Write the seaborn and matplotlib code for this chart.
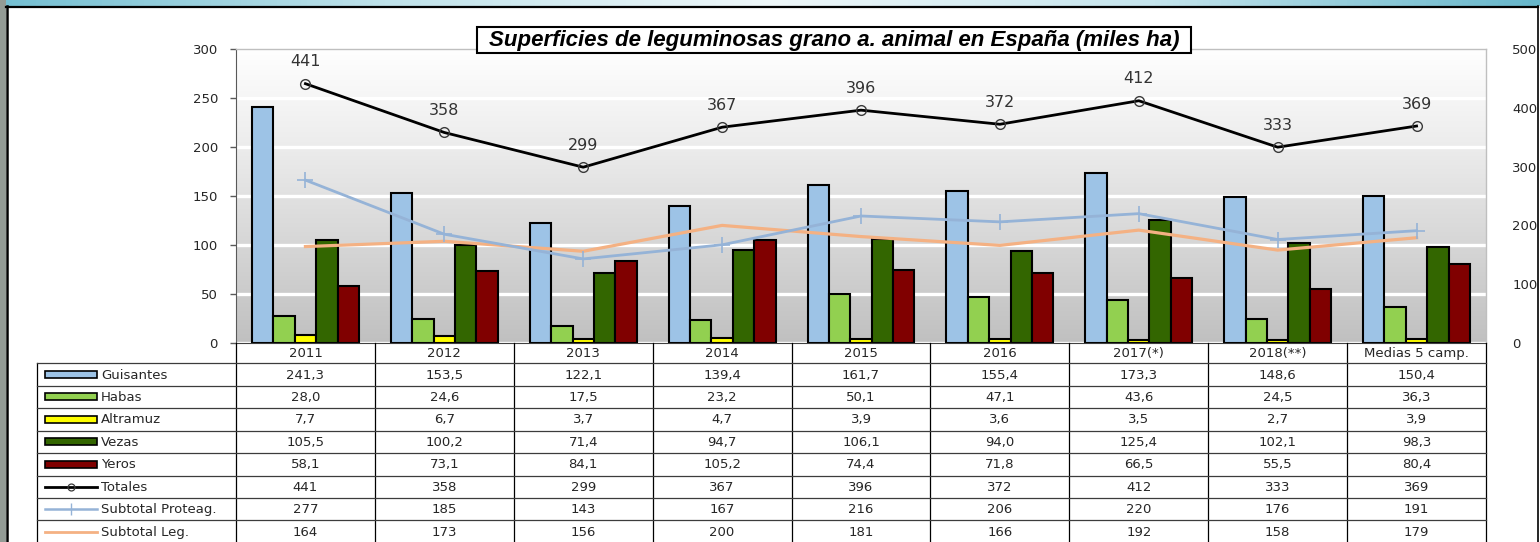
"""Superficies de leguminosas grano para alimentación animal en España (miles ha)."""

import matplotlib

matplotlib.use("Agg")
import matplotlib.pyplot as plt
import numpy as np
import pandas as pd
import seaborn as sns
from matplotlib.colors import LinearSegmentedColormap
from matplotlib.lines import Line2D
from matplotlib.patches import Rectangle

# --- datos -----------------------------------------------------------------
campanas = ["2011", "2012", "2013", "2014", "2015", "2016", "2017(*)", "2018(**)", "Medias 5 camp."]
guisantes = [241.3, 153.5, 122.1, 139.4, 161.7, 155.4, 173.3, 148.6, 150.4]
habas = [28.0, 24.6, 17.5, 23.2, 50.1, 47.1, 43.6, 24.5, 36.3]
altramuz = [7.7, 6.7, 3.7, 4.7, 3.9, 3.6, 3.5, 2.7, 3.9]
vezas = [105.5, 100.2, 71.4, 94.7, 106.1, 94.0, 125.4, 102.1, 98.3]
yeros = [58.1, 73.1, 84.1, 105.2, 74.4, 71.8, 66.5, 55.5, 80.4]
totales = [441, 358, 299, 367, 396, 372, 412, 333, 369]
subtotal_proteag = [277, 185, 143, 167, 216, 206, 220, 176, 191]
subtotal_leg = [164, 173, 156, 200, 181, 166, 192, 158, 179]

cultivos = ["Guisantes", "Habas", "Altramuz", "Vezas", "Yeros"]
valores_cultivos = [guisantes, habas, altramuz, vezas, yeros]
colores_cultivos = ["#9dc3e6", "#92d050", "#ffff00", "#336600", "#800000"]

titulo = "Superficies de leguminosas grano a. animal en España (miles ha)"

# --- geometría (píxeles) ---------------------------------------------------
W, H = 1540, 542
PLOT_L, PLOT_R, PLOT_T, PLOT_B = 236, 1486, 49, 343
CAT_W = (PLOT_R - PLOT_L) / len(campanas)
TABLE_L = 37
HEAD_B = 363.3
ROW_H = 22.45
TXT = "#262626"


def fx(px):
    return px / W


def fy(py):
    return 1 - py / H


n = len(campanas)
pos = np.arange(n)
barras = pd.DataFrame(
    {
        "pos": np.tile(pos, len(cultivos)),
        "cultivo": np.repeat(cultivos, n),
        "valor": np.concatenate(valores_cultivos),
    }
)

fig = plt.figure(figsize=(W / 100, H / 100), dpi=100)
fig.patch.set_facecolor("white")

ax = fig.add_axes([fx(PLOT_L), fy(PLOT_B), (PLOT_R - PLOT_L) / W, (PLOT_B - PLOT_T) / H])

sns.barplot(
    data=barras,
    x="pos",
    y="valor",
    hue="cultivo",
    hue_order=cultivos,
    palette=colores_cultivos,
    saturation=1,
    width=0.77,
    edgecolor="black",
    linewidth=1.5,
    errorbar=None,
    legend=False,
    ax=ax,
)

# fondo degradado del área de trazado
fondo = LinearSegmentedColormap.from_list("fondo", ["#c0c0c0", "#d6d6d6", "#ececec", "#ffffff"])
ax.imshow(
    np.linspace(0, 1, 256).reshape(-1, 1),
    cmap=fondo,
    origin="lower",
    aspect="auto",
    extent=(-0.5, n - 0.5, 0, 300),
    zorder=0,
)
ax.set_xlim(-0.5, n - 0.5)
ax.set_ylim(0, 300)
ax.set_yticks(range(0, 301, 50))
ax.set_axisbelow(True)
ax.yaxis.grid(True, color="white", linewidth=2.4)
ax.xaxis.grid(False)
ax.set_xticks([])
ax.set_xlabel("")
ax.set_ylabel("")
ax.tick_params(axis="y", direction="out", length=4, width=1, color="#595959",
               pad=9, labelsize=9.5, labelcolor=TXT)
for lado in ("top", "right"):
    ax.spines[lado].set_color("#bfbfbf")
    ax.spines[lado].set_linewidth(1)
ax.spines["left"].set_color("#595959")
ax.spines["bottom"].set_color("#404040")

# --- líneas sobre eje secundario ------------------------------------------
ax2 = ax.twinx()
sns.lineplot(x=pos, y=subtotal_leg, ax=ax2, color="#f4b183", linewidth=2.3,
             errorbar=None, legend=False)
sns.lineplot(x=pos, y=subtotal_proteag, ax=ax2, color="#95b3d7", linewidth=2.0,
             marker="+", markersize=11, markeredgewidth=1.2,
             markeredgecolor="#95b3d7", errorbar=None, legend=False)
sns.lineplot(x=pos, y=totales, ax=ax2, color="black", linewidth=2.0,
             marker="o", markersize=7, markerfacecolor="none",
             markeredgecolor="#3a3a3a", markeredgewidth=1.0,
             errorbar=None, legend=False)
for i, v in enumerate(totales):
    ax2.annotate(str(v), xy=(i, v), xytext=(0, 22), textcoords="offset pixels",
                 ha="center", va="center", fontsize=11.5, color="#333333")
ax2.set_xlim(-0.5, n - 0.5)
ax2.set_ylim(0, 500)
ax2.set_yticks(range(0, 501, 100))
ax2.set_ylabel("")
ax2.tick_params(axis="y", length=0, pad=19, labelsize=9.5, labelcolor=TXT)
for lado in ax2.spines:
    ax2.spines[lado].set_visible(False)

# --- capa de dibujo en píxeles: marco, título y tabla ---------------------
ov = fig.add_axes([0, 0, 1, 1], zorder=5)
ov.set_xlim(0, W)
ov.set_ylim(H, 0)
ov.axis("off")
ov.patch.set_alpha(0)

franja = LinearSegmentedColormap.from_list(
    "franja", ["#74bfd2", "#bfe2ea", "#eef7f9", "#c4e4ec", "#66b6ca"]
)
ov.imshow(np.linspace(0, 1, 256).reshape(1, -1), cmap=franja, aspect="auto",
          extent=(0, W, 6, 0), zorder=1)
ov.add_patch(Rectangle((0, 0), 6, H, facecolor="#939b95", edgecolor="none", zorder=1))
ov.add_line(Line2D([7, 7], [6, H], color="black", linewidth=1.8, zorder=2))
ov.add_line(Line2D([6, 1538], [6.5, 6.5], color="black", linewidth=1.6, zorder=2))
ov.add_line(Line2D([1537.5, 1537.5], [6, H], color="black", linewidth=1.2, zorder=2))
ov.set_xlim(0, W)
ov.set_ylim(H, 0)

# título enmarcado
ov.add_patch(Rectangle((477, 27), 714, 26, facecolor="white", edgecolor="black",
                       linewidth=1.5, zorder=3))
t = ov.text(834, 40.5, titulo, ha="center", va="center", fontsize=14,
            fontstyle="italic", fontweight="bold", family="Liberation Sans",
            color="black", zorder=4)
fig.canvas.draw()
ancho = t.get_window_extent().width
t.set_fontsize(14 * 692 / ancho)

# tabla de datos
filas = [
    ("Guisantes", guisantes, True),
    ("Habas", habas, True),
    ("Altramuz", altramuz, True),
    ("Vezas", vezas, True),
    ("Yeros", yeros, True),
    ("Totales", totales, False),
    ("Subtotal Proteag.", subtotal_proteag, False),
    ("Subtotal Leg.", subtotal_leg, False),
]

for j in range(n + 1):
    xe = PLOT_L + j * CAT_W
    ov.add_line(Line2D([xe, xe], [PLOT_B, H], color="black", linewidth=0.9, zorder=2))
ov.add_line(Line2D([TABLE_L, TABLE_L], [HEAD_B, H], color="black", linewidth=0.9, zorder=2))
for k in range(len(filas) + 1):
    ye = HEAD_B + k * ROW_H
    ov.add_line(Line2D([TABLE_L, PLOT_R], [ye, ye], color="#3c3c3c", linewidth=0.9, zorder=2))

for j, cab in enumerate(campanas):
    ov.text(PLOT_L + (j + 0.5) * CAT_W, (PLOT_B + HEAD_B) / 2 + 0.5, cab,
            ha="center", va="center", fontsize=9.5, color=TXT)

estilos_lineas = {
    "Totales": dict(color="black", lw=2.0, marker="o", ms=5, mfc="none", mec="#3a3a3a", mew=0.9),
    "Subtotal Proteag.": dict(color="#95b3d7", lw=1.8, marker="|", ms=9, mec="#95b3d7", mew=1.0),
    "Subtotal Leg.": dict(color="#f4b183", lw=2.0),
}
colores = dict(zip(cultivos, colores_cultivos))

for k, (nombre, valores, es_barra) in enumerate(filas):
    yc = HEAD_B + (k + 0.5) * ROW_H
    if es_barra:
        ov.add_patch(Rectangle((45, yc - 3.5), 52, 7, facecolor=colores[nombre],
                               edgecolor="black", linewidth=1.2, zorder=3))
    else:
        e = estilos_lineas[nombre]
        ov.add_line(Line2D([45, 97], [yc, yc], color=e["color"], linewidth=e["lw"], zorder=3))
        if "marker" in e:
            ov.plot([71], [yc], linestyle="none", marker=e["marker"], markersize=e["ms"],
                    markerfacecolor=e["mfc"] if "mfc" in e else "none",
                    markeredgecolor=e["mec"], markeredgewidth=e["mew"], zorder=4)
    ov.text(101, yc + 0.5, nombre, ha="left", va="center", fontsize=9.5, color=TXT)
    for j, v in enumerate(valores):
        etiqueta = f"{v:.1f}".replace(".", ",") if es_barra else str(v)
        ov.text(PLOT_L + (j + 0.5) * CAT_W, yc + 0.5, etiqueta, ha="center",
                va="center", fontsize=9.5, color=TXT)

ov.set_xlim(0, W)
ov.set_ylim(H, 0)

fig.savefig("out.png", dpi=100)
plt.close(fig)
